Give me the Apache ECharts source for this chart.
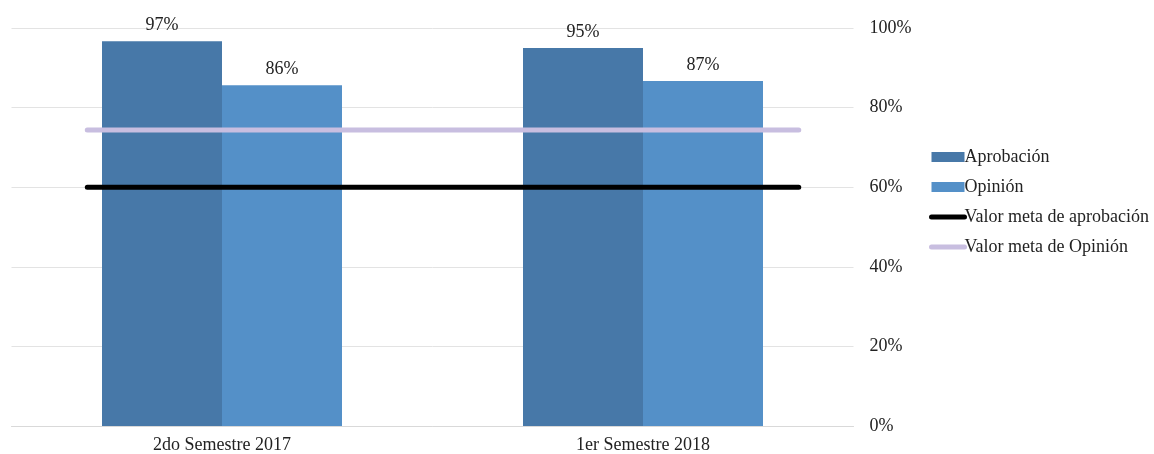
<!DOCTYPE html>
<html>
<head>
<meta charset="utf-8">
<script src="https://cdn.jsdelivr.net/npm/echarts@6/dist/echarts.min.js"></script>
<style>html,body{margin:0;padding:0;background:#fff;}#c{width:1154px;height:454px;}</style>
</head>
<body>
<div id="c"></div>
<script>
const categories = ['2do Semestre 2017', '1er Semestre 2018'];
const aprobacion = [96.7, 95.0];
const opinion = [85.6, 86.7];
const metaAprobacion = 60;
const metaOpinion = 74.4;
const metaSpanX = [0.18, 0.5, 1.5, 1.87];
const yTicks = [0, 20, 40, 60, 80, 100];

const font = 'Liberation Serif';
const chart = echarts.init(document.getElementById('c'));
const lbl = {show: true, position: 'top', distance: 7, color: '#222', fontFamily: font, fontSize: 18,
  formatter: p => Math.round(p.value) + '%'};
chart.setOption({
  animation: false,
  grid: {left: 11.5, right: 300.5, top: 28, bottom: 28, containLabel: false},
  legend: {
    orient: 'vertical', left: 924, top: 143, itemGap: 12, itemWidth: 33, itemHeight: 10,
    textStyle: {fontFamily: font, fontSize: 18, color: '#222', padding: [0, 0, 0, -5]},
    data: [
      {name: 'Aprobación', icon: 'rect'},
      {name: 'Opinión', icon: 'rect'},
      {name: 'Valor meta de aprobación', lineStyle: {width: 5}, itemStyle: {opacity: 0}},
      {name: 'Valor meta de Opinión', lineStyle: {width: 5}, itemStyle: {opacity: 0}}
    ]
  },
  xAxis: [
    {type: 'category', data: categories,
     axisLine: {lineStyle: {color: '#d9d9d9'}}, axisTick: {show: false},
     axisLabel: {color: '#222', fontFamily: font, fontSize: 18, margin: 10}},
    {type: 'value', min: 0, max: 2, show: false}
  ],
  yAxis: {type: 'value', position: 'right', min: yTicks[0], max: yTicks[yTicks.length - 1], interval: 20,
    axisLine: {show: false}, axisTick: {show: false},
    splitLine: {lineStyle: {color: '#e3e3e3'}},
    axisLabel: {color: '#222', fontFamily: font, fontSize: 18, margin: 16, formatter: v => v + '%'}},
  series: [
    {name: 'Aprobación', type: 'bar', data: aprobacion, barWidth: 120, barGap: '0%',
     itemStyle: {color: '#4778A8'}, label: lbl},
    {name: 'Opinión', type: 'bar', data: opinion, barWidth: 120,
     itemStyle: {color: '#5490C8'}, label: lbl},
    {name: 'Valor meta de aprobación', type: 'line', xAxisIndex: 1, symbol: 'none',
     data: metaSpanX.map(x => [x, metaAprobacion]),
     itemStyle: {color: '#000'}, lineStyle: {color: '#000', width: 5, cap: 'round'}, z: 5},
    {name: 'Valor meta de Opinión', type: 'line', xAxisIndex: 1, symbol: 'none',
     data: metaSpanX.map(x => [x, metaOpinion]),
     itemStyle: {color: '#C8BEE0'}, lineStyle: {color: '#C8BEE0', width: 5, cap: 'round'}, z: 5}
  ]
});
</script>
</body>
</html>
